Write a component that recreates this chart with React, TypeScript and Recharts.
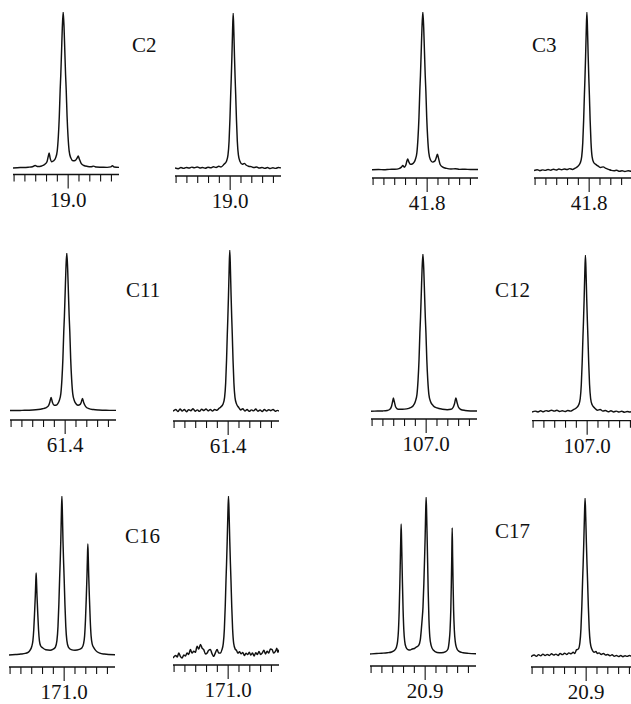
import React from 'react';
import { LineChart, Line, XAxis, YAxis } from 'recharts';

type Pt = [number, number];

// x in tick units (one minor tick = 1), y = intensity (tallest line of each spectrum = 100)
const C2_COUPLED: Pt[] = [[-0.1,0.0],[0.3,0.2],[0.8,0.3],[1.3,0.5],[1.7,0.8],[1.95,1.6],[2.2,0.9],[2.55,1.3],[2.85,2.4],[3.05,4.2],[3.16,7.5],[3.24,9.6],[3.33,6.5],[3.48,4.0],[3.66,4.6],[3.84,6.5],[3.99,11],[4.09,20],[4.18,33],[4.26,50],[4.32,60],[4.39,75],[4.46,90],[4.54,100],[4.62,90],[4.69,75],[4.76,60],[4.82,50],[4.9,33],[4.99,20],[5.09,11],[5.24,6.5],[5.45,4.6],[5.65,4.8],[5.82,6.3],[5.93,7.7],[6.03,5.8],[6.2,3.0],[6.45,1.6],[6.8,1.0],[7.1,0.8],[7.35,1.2],[7.6,0.6],[8.1,0.5],[8.6,0.4],[8.95,0.7],[9.1,1.5],[9.25,0.6],[9.7,0.4]];
const C2_DECOUPLED: Pt[] = [[-0.1,0.6],[0.2,0.2],[0.45,0.9],[0.7,0.4],[0.95,1.0],[1.2,0.6],[1.45,1.2],[1.7,0.8],[1.95,1.3],[2.2,0.7],[2.45,1.0],[2.7,0.5],[2.95,1.1],[3.2,0.8],[3.45,1.4],[3.7,1.0],[3.95,1.8],[4.15,1.3],[4.43,3.0],[4.66,5],[4.8,9],[4.9,18],[4.98,32],[5.05,48],[5.1,58],[5.16,72],[5.22,88],[5.28,100],[5.34,88],[5.4,72],[5.46,58],[5.51,48],[5.58,32],[5.66,18],[5.76,9],[5.9,5],[6.13,3.0],[6.3,3.6],[6.5,2.4],[6.7,1.8],[6.95,1.5],[7.2,0.9],[7.45,1.3],[7.7,0.6],[7.95,1.0],[8.2,0.4],[8.45,0.9],[8.7,0.3],[8.95,0.8],[9.2,0.4],[9.45,0.9],[9.7,0.7]];
const C3_COUPLED: Pt[] = [[-0.1,0.2],[0.5,0.3],[1.0,0.2],[1.5,0.4],[2.0,0.5],[2.4,0.9],[2.62,1.8],[2.75,2.8],[2.88,1.8],[3.02,3.0],[3.12,5.5],[3.2,7.0],[3.3,5.2],[3.45,3.6],[3.62,3.8],[3.78,4.8],[3.9,6.5],[4.05,11],[4.15,20],[4.24,33],[4.32,50],[4.38,60],[4.45,75],[4.52,90],[4.6,100],[4.68,90],[4.75,75],[4.82,60],[4.88,50],[4.96,33],[5.05,20],[5.15,11],[5.3,6.5],[5.5,5.0],[5.7,5.6],[5.85,8.0],[5.95,10],[6.05,7.5],[6.2,3.5],[6.45,1.8],[6.8,1.0],[7.2,0.6],[7.6,0.8],[8.0,0.4],[8.5,0.5],[9.0,0.3],[9.7,0.3]];
const C3_DECOUPLED: Pt[] = [[-0.1,0.3],[0.2,0.8],[0.45,0.2],[0.7,0.7],[0.95,0.4],[1.2,1.0],[1.45,0.5],[1.7,1.1],[1.95,0.6],[2.2,1.2],[2.45,0.8],[2.7,1.3],[2.95,0.9],[3.2,1.5],[3.45,1.0],[3.7,1.8],[3.94,2.8],[4.17,5],[4.31,9],[4.41,18],[4.49,32],[4.56,48],[4.61,58],[4.67,72],[4.73,88],[4.79,100],[4.85,88],[4.91,72],[4.97,58],[5.02,48],[5.09,32],[5.17,18],[5.27,9],[5.41,5.5],[5.64,4.0],[5.85,3.0],[6.05,2.2],[6.3,2.6],[6.55,1.6],[6.8,1.0],[7.05,0.4],[7.3,0.2],[7.55,0.5],[7.8,-0.2],[8.05,0.2],[8.3,-0.3],[8.6,0.1],[8.9,-0.2],[9.2,0.0],[9.7,0.0]];
const C11_COUPLED: Pt[] = [[-0.1,0.3],[0.5,0.3],[1.0,0.4],[1.5,0.5],[2.0,0.6],[2.5,0.9],[2.9,1.4],[3.2,2.0],[3.45,3.2],[3.58,5.5],[3.7,8.5],[3.82,5.5],[3.98,3.6],[4.15,3.6],[4.32,4.6],[4.45,6.5],[4.6,11],[4.7,20],[4.79,33],[4.87,50],[4.93,60],[5.0,75],[5.07,90],[5.15,100],[5.23,90],[5.3,75],[5.37,60],[5.43,50],[5.51,33],[5.6,20],[5.7,11],[5.85,6.5],[6.02,4.4],[6.2,3.6],[6.36,4.0],[6.48,5.4],[6.6,8.0],[6.72,5.2],[6.9,2.8],[7.2,1.5],[7.6,0.9],[8.1,0.6],[8.6,0.5],[9.1,0.4],[9.7,0.4]];
const C11_DECOUPLED: Pt[] = [[-0.1,0.5],[0.15,1.6],[0.35,0.3],[0.55,1.8],[0.75,0.6],[0.95,1.5],[1.15,0.2],[1.35,1.4],[1.55,0.8],[1.75,2.0],[1.95,0.5],[2.15,1.3],[2.35,0.4],[2.55,1.7],[2.75,0.9],[2.95,1.9],[3.15,0.7],[3.35,1.5],[3.55,0.6],[3.75,1.6],[3.95,1.1],[4.15,2.2],[4.3,3.0],[4.53,5],[4.67,9],[4.77,18],[4.85,32],[4.92,48],[4.97,58],[5.03,72],[5.09,88],[5.15,100],[5.21,88],[5.27,72],[5.33,58],[5.38,48],[5.45,32],[5.53,18],[5.63,9],[5.77,5],[6.0,2.6],[6.15,1.2],[6.35,2.0],[6.55,0.6],[6.75,1.5],[6.95,0.4],[7.15,1.3],[7.35,0.7],[7.55,1.8],[7.75,0.5],[7.95,1.2],[8.15,0.3],[8.35,1.5],[8.55,0.6],[8.75,1.4],[8.95,0.8],[9.15,1.6],[9.35,0.5],[9.55,1.0],[9.7,0.6]];
const C12_COUPLED: Pt[] = [[-0.1,0.3],[0.5,0.4],[1.0,0.5],[1.4,0.8],[1.65,1.6],[1.8,3.5],[1.9,6.5],[1.97,8.7],[2.05,6.5],[2.18,3.0],[2.4,1.6],[2.8,1.5],[3.2,1.8],[3.55,2.6],[3.8,3.8],[4.0,6.5],[4.15,11],[4.25,20],[4.34,33],[4.42,50],[4.48,60],[4.55,75],[4.62,90],[4.7,100],[4.78,90],[4.85,75],[4.92,60],[4.98,50],[5.06,33],[5.15,20],[5.25,11],[5.4,6.5],[5.65,3.8],[6.0,2.4],[6.5,1.6],[6.95,1.3],[7.3,1.5],[7.5,2.8],[7.62,5],[7.75,8.7],[7.85,6.0],[7.98,3.0],[8.2,1.4],[8.6,0.8],[9.1,0.5],[9.7,0.4]];
const C12_DECOUPLED: Pt[] = [[-0.1,0.4],[0.2,1.0],[0.45,0.5],[0.7,1.2],[0.95,0.6],[1.2,1.3],[1.45,0.9],[1.7,1.6],[1.95,1.0],[2.2,1.5],[2.45,0.8],[2.7,1.2],[2.95,0.7],[3.2,1.4],[3.45,1.0],[3.7,1.8],[3.99,3.0],[4.22,5],[4.36,9],[4.46,18],[4.54,32],[4.61,48],[4.66,58],[4.72,72],[4.78,88],[4.84,100],[4.9,88],[4.96,72],[5.02,58],[5.07,48],[5.14,32],[5.22,18],[5.32,9],[5.46,5],[5.69,3.0],[5.95,1.6],[6.2,2.0],[6.45,1.0],[6.7,1.4],[6.95,0.6],[7.2,1.2],[7.45,0.5],[7.7,1.0],[7.95,0.4],[8.2,0.9],[8.45,0.3],[8.7,0.8],[8.95,0.4],[9.2,0.9],[9.45,0.5],[9.7,0.8]];
const C16_COUPLED: Pt[] = [[-0.1,0],[0.5,0.3],[1.0,0.6],[1.4,1.0],[1.7,1.8],[1.85,3.0],[2.01,5.5],[2.11,9],[2.19,16],[2.26,26],[2.33,37],[2.37,45],[2.41,51.6],[2.45,45],[2.49,37],[2.56,26],[2.63,16],[2.71,9],[2.81,6.0],[3.0,4.5],[3.3,3.3],[3.7,3.0],[3.95,3.5],[4.19,5],[4.33,9],[4.43,18],[4.51,32],[4.58,48],[4.63,58],[4.69,72],[4.74,88],[4.79,100],[4.84,88],[4.89,72],[4.95,58],[5.0,48],[5.07,32],[5.15,18],[5.25,9],[5.39,5],[5.65,3.4],[6.0,3.0],[6.4,3.5],[6.65,4.6],[6.79,7],[6.89,12],[6.97,22],[7.04,35],[7.11,50],[7.15,61],[7.19,69.8],[7.23,61],[7.27,50],[7.34,35],[7.41,22],[7.49,12],[7.59,7],[7.75,4.5],[7.95,2.6],[8.3,1.2],[8.7,0.6],[9.1,0.3],[9.7,0.2]];
const C16_DECOUPLED: Pt[] = [[-0.1,0],[0.15,1.5],[0.3,0.6],[0.43,3.1],[0.58,1.0],[0.74,0],[0.9,1.8],[1.05,1.2],[1.2,3.1],[1.35,2.2],[1.51,5.2],[1.66,3.0],[1.82,4.2],[1.97,3.5],[2.13,7.3],[2.28,5.5],[2.44,8.4],[2.6,6.0],[2.74,5.2],[2.9,2.5],[3.06,3.1],[3.2,4.8],[3.36,5.2],[3.5,2.8],[3.67,1.0],[3.82,3.2],[3.98,5.2],[4.13,3.0],[4.29,3.1],[4.42,5.0],[4.55,9],[4.65,18],[4.73,32],[4.8,48],[4.85,58],[4.91,72],[4.97,88],[5.03,100],[5.09,88],[5.15,72],[5.21,58],[5.26,48],[5.33,32],[5.41,18],[5.51,9],[5.65,5.5],[5.78,4.6],[5.9,3.0],[6.05,3.8],[6.2,2.6],[6.35,3.4],[6.5,1.5],[6.65,3.0],[6.8,2.1],[6.95,3.5],[7.1,1.8],[7.25,3.1],[7.4,1.2],[7.55,3.3],[7.7,2.1],[7.85,4.0],[8.0,2.2],[8.15,3.1],[8.3,4.8],[8.45,2.5],[8.6,4.2],[8.75,3.0],[8.9,5.5],[9.07,5.2],[9.2,3.0],[9.38,4.2],[9.5,6.0],[9.6,3.5],[9.7,5.2]];
const C17_COUPLED: Pt[] = [[-0.1,0],[0.5,0.3],[1.0,0.5],[1.5,0.8],[1.9,1.3],[2.15,2.2],[2.35,4.5],[2.45,8],[2.53,15],[2.6,28],[2.66,45],[2.71,62],[2.74,72],[2.78,82.8],[2.82,72],[2.85,62],[2.9,45],[2.96,28],[3.03,15],[3.11,8],[3.22,4.5],[3.4,2.8],[3.6,2.5],[3.8,3.2],[4.0,3.5],[4.2,4.5],[4.4,5.5],[4.55,9],[4.65,16],[4.72,22],[4.8,30],[4.88,45],[4.95,62],[5.0,75],[5.04,88],[5.09,100],[5.14,88],[5.18,75],[5.23,58],[5.28,40],[5.35,22],[5.43,11],[5.55,5.5],[5.75,2.5],[6.1,1.0],[6.5,0.8],[6.9,1.5],[7.1,3.0],[7.22,8],[7.3,15],[7.37,28],[7.42,45],[7.46,62],[7.5,80.3],[7.54,62],[7.58,45],[7.63,28],[7.7,15],[7.78,8],[7.9,4],[8.1,1.8],[8.5,0.8],[9.0,0.4],[9.7,0.2]];
const C17_DECOUPLED: Pt[] = [[-0.1,0.2],[0.2,1.2],[0.4,0.4],[0.6,1.5],[0.8,0.7],[1.0,1.8],[1.2,0.9],[1.4,1.6],[1.6,1.0],[1.8,2.0],[2.0,1.2],[2.2,1.8],[2.4,1.0],[2.6,2.2],[2.8,1.5],[3.0,2.4],[3.2,1.6],[3.4,2.6],[3.6,2.0],[3.8,3.0],[3.95,2.2],[4.1,4.5],[4.28,5],[4.42,9],[4.52,18],[4.6,32],[4.67,48],[4.72,58],[4.78,72],[4.84,88],[4.9,100],[4.96,88],[5.02,72],[5.08,58],[5.13,48],[5.2,32],[5.28,18],[5.38,9],[5.52,5],[5.75,3.0],[5.9,3.4],[6.05,2.2],[6.2,2.6],[6.4,1.6],[6.6,2.2],[6.8,1.2],[7.0,1.6],[7.2,0.8],[7.4,1.4],[7.6,0.5],[7.8,1.0],[8.0,0.3],[8.2,0.9],[8.4,0.2],[8.6,0.8],[8.8,0.4],[9.0,1.0],[9.2,0.5],[9.4,0.9],[9.6,0.4],[9.7,0.7]];

const SPECTRA: Pt[][] = [
  C2_COUPLED, C2_DECOUPLED, C3_COUPLED, C3_DECOUPLED,
  C11_COUPLED, C11_DECOUPLED, C12_COUPLED, C12_DECOUPLED,
  C16_COUPLED, C16_DECOUPLED, C17_COUPLED, C17_DECOUPLED,
];
const SHIFT_LABELS = ['19.0', '19.0', '41.8', '41.8', '61.4', '61.4', '107.0', '107.0', '171.0', '171.0', '20.9', '20.9'];
const CARBON_LABELS = ['C2', 'C3', 'C11', 'C12', 'C16', 'C17'];
const TICKS = [0, 1, 2, 3, 4, 5, 6, 7, 8, 9];
const CENTER_TICK = 5;

// layout (pixels): x of first tick, y of tallest line top, baseline y, axis y
const LAYOUT = [
  { tick0: 14, top: 12, base: 168, axis: 174.5 },
  { tick0: 175.7, top: 13, base: 169, axis: 176 },
  { tick0: 373.3, top: 12, base: 170, axis: 178 },
  { tick0: 535, top: 12, base: 171, axis: 178 },
  { tick0: 11, top: 253, base: 411, axis: 420 },
  { tick0: 174.3, top: 250, base: 412, axis: 421 },
  { tick0: 372, top: 254, base: 411.7, axis: 419 },
  { tick0: 532.7, top: 255, base: 412.7, axis: 420.7 },
  { tick0: 10, top: 496, base: 655, axis: 667 },
  { tick0: 173.7, top: 496, base: 658, axis: 665 },
  { tick0: 371, top: 497, base: 654, axis: 666 },
  { tick0: 532, top: 498, base: 657, axis: 667 },
];
const CARBON_POS = [
  { x: 132, y: 52 }, { x: 532, y: 52 },
  { x: 126, y: 297 }, { x: 495, y: 297 },
  { x: 125, y: 543 }, { x: 495, y: 538 },
];

const FONT = '"Liberation Serif", "Times New Roman", Times, serif';
const INK = '#111';
const X_MIN = -0.1;
const X_MAX = 9.7;
const CHART_W = 106;
const PAD_TOP = 4;
const AXIS_H = 38;

const makeTick = (label: string) => (props: any) => {
  const { x, y, payload } = props;
  const isLong = payload && payload.value === CENTER_TICK;
  return (
    <g>
      <line x1={x} x2={x} y1={y} y2={y + (isLong ? 14 : 7)} stroke={INK} strokeWidth={1.1} />
      {isLong && (
        <text x={x} y={y + 32} textAnchor="middle" fontFamily={FONT} fontSize={21} fill={INK}>
          {label}
        </text>
      )}
    </g>
  );
};

function Panel({ idx }: { idx: number }) {
  const lay = LAYOUT[idx];
  const pts = SPECTRA[idx].map(([x, y]) => ({ x, y }));
  const pxPerTick = CHART_W / (X_MAX - X_MIN);
  const left = lay.tick0 + X_MIN * pxPerTick;
  const h = lay.axis - lay.top;
  const gap = lay.axis - lay.base;
  const lo = (-100 * gap) / (h - gap);
  return (
    <div style={{ position: 'absolute', left, top: lay.top - PAD_TOP }}>
      <LineChart
        width={CHART_W}
        height={h + PAD_TOP + AXIS_H}
        data={pts}
        margin={{ top: PAD_TOP, right: 0, bottom: 0, left: 0 }}
      >
        <XAxis
          dataKey="x"
          type="number"
          domain={[X_MIN, X_MAX]}
          allowDataOverflow
          ticks={TICKS}
          interval={0}
          tickLine={false}
          tickSize={0}
          tickMargin={0}
          height={AXIS_H}
          axisLine={{ stroke: INK, strokeWidth: 1.3 }}
          tick={makeTick(SHIFT_LABELS[idx])}
        />
        <YAxis hide type="number" domain={[lo, 100]} allowDataOverflow />
        <Line
          type="monotone"
          dataKey="y"
          stroke={INK}
          strokeWidth={1.45}
          dot={false}
          activeDot={false}
          isAnimationActive={false}
        />
      </LineChart>
    </div>
  );
}

export default function App() {
  return (
    <div
      style={{
        position: 'absolute',
        left: 0,
        top: 0,
        width: 631,
        height: 704,
        overflow: 'hidden',
        background: '#fff',
      }}
    >
      {SPECTRA.map((_, i) => (
        <Panel key={i} idx={i} />
      ))}
      <svg width={631} height={704} style={{ position: 'absolute', left: 0, top: 0, pointerEvents: 'none' }}>
        {CARBON_LABELS.map((t, i) => (
          <text key={t} x={CARBON_POS[i].x} y={CARBON_POS[i].y} fontFamily={FONT} fontSize={21} fill={INK}>
            {t}
          </text>
        ))}
      </svg>
    </div>
  );
}
